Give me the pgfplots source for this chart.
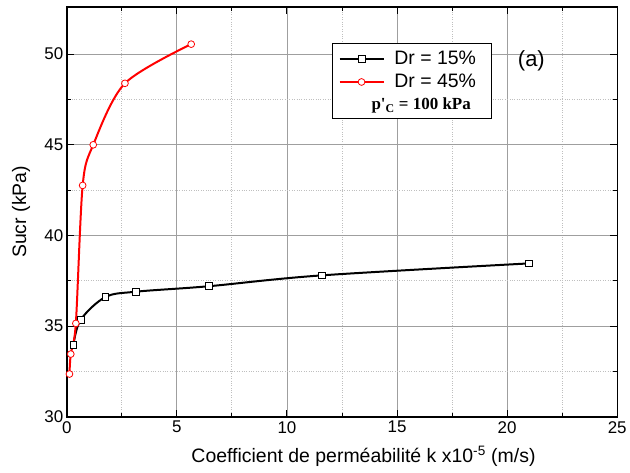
\documentclass[border=0pt]{standalone}
\usepackage{pgfplots}
\pgfplotsset{compat=1.18}
\usepackage{fontspec}
\setmainfont{Liberation Sans}
\newfontfamily\serifb{Liberation Serif}
\begin{document}
\begin{tikzpicture}[x=1pt,y=1pt]
\path (0,0) rectangle (630,474);
\begin{axis}[
  at={(67pt,56pt)}, anchor=south west,
  scale only axis, width=552pt, height=411pt,
  xmin=0, xmax=25, ymin=30, ymax=52.6,
  xtick={0,5,...,25}, ytick={30,35,...,50},
  minor xtick={2.5,7.5,...,22.5}, minor ytick={32.5,37.5,42.5,47.5},
  tick align=inside,
  major tick length=7pt, minor tick length=4pt,
  every tick/.style={black, line width=1pt},
  axis line style={black, line width=1.5pt},
  grid=both,
  major grid style={gray!75, line width=0.9pt},
  minor grid style={gray!50, dotted, line width=0.9pt},
  /pgf/number format/assume math mode=true,
  tick label style={font=\fontsize{17}{19}\selectfont},
  xticklabel style={yshift=-1pt},
  xlabel={Coefficient de perméabilité k x10\textsuperscript{-5} (m/s)},
  ylabel={Sucr (kPa)},
  label style={font=\fontsize{19.5}{21}\selectfont},
  xlabel style={at={(axis description cs:0.539,-0.097)}, anchor=center},
  ylabel style={at={(axis description cs:-0.083,0.5)}, anchor=center},
  legend style={at={(axis description cs:0.482,0.912)}, anchor=north west,
    draw=black, line width=1pt, font=\fontsize{19.5}{21}\selectfont,
    row sep=4.5pt, inner xsep=6pt, inner ysep=5.5pt},
  legend cell align=left,
  legend image code/.code={
    \draw[#1, mark repeat=2, mark phase=2] plot coordinates {(0pt,0pt) (22pt,0pt) (44pt,0pt)};
    \path (52pt,0pt);
  },
]
\addplot[black, line width=2pt, smooth, tension=0.55, mark=square*, mark size=3.4pt,
  mark options={fill=white, line width=0.8pt, solid}]
  coordinates {(0.3,33.97) (0.63,35.35) (1.75,36.6) (3.14,36.9) (6.44,37.2) (11.58,37.8) (21.0,38.46)};
\addlegendentry{Dr = 15\%\hspace*{8pt}}
\addplot[red, line width=2pt, smooth, tension=0.5, mark=*, mark size=3.4pt,
  mark options={fill=white, line width=0.8pt, solid}]
  coordinates {(0.12,32.36) (0.18,33.46) (0.41,35.15) (0.72,42.76) (1.2,45.0) (2.64,48.39) (5.65,50.55)};
\addlegendentry{Dr = 45\%}
\addlegendimage{empty legend}
\addlegendentry{\hspace*{-23pt}\fontsize{17}{19}\selectfont\serifb\bfseries p\textquotesingle\textsubscript{C} = 100 kPa}
\node[font=\fontsize{22}{24}\selectfont] at (axis description cs:0.844,0.869) {(a)};
\end{axis}
\end{tikzpicture}
\end{document}
